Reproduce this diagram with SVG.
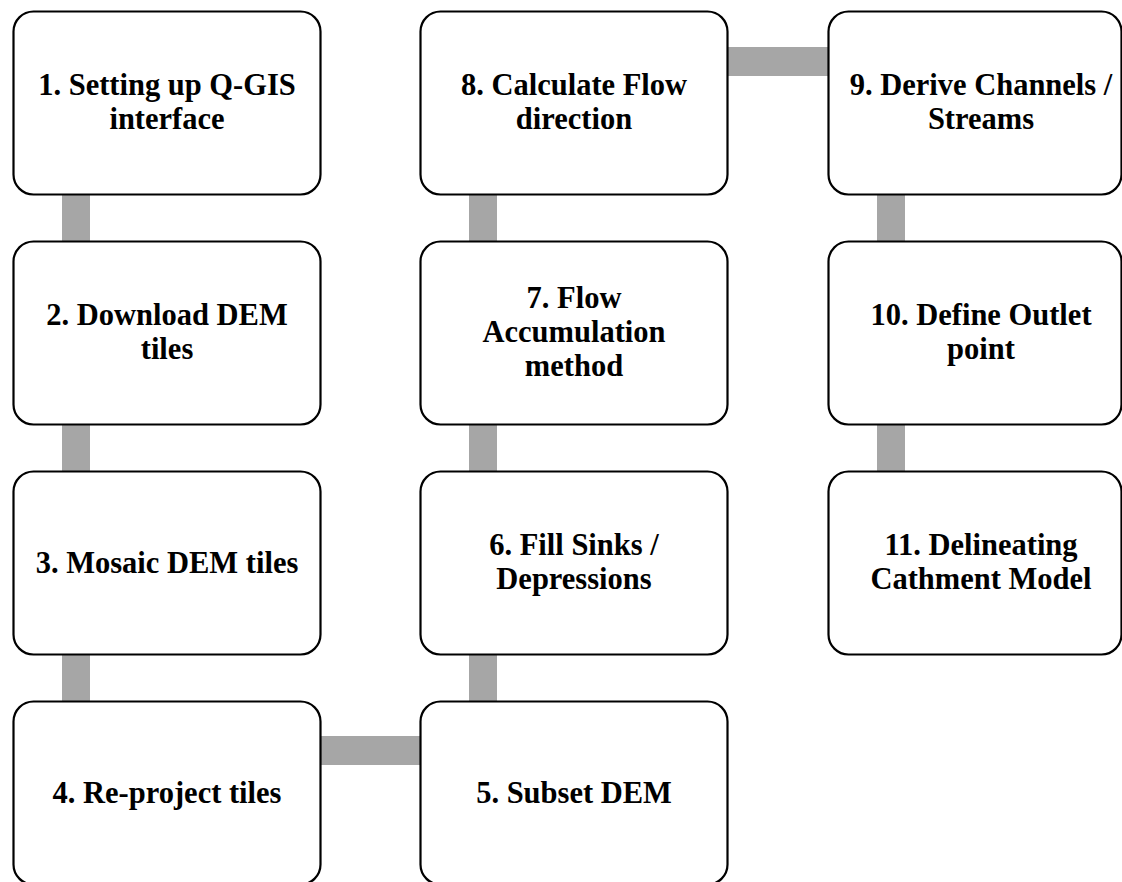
<svg xmlns="http://www.w3.org/2000/svg" width="1122" height="882" viewBox="0 0 1122 882">
<style>
.bg{fill:#ffffff}
.conn{fill:#a6a6a6;stroke:none}
.box{fill:#ffffff;stroke:#000000;stroke-width:2.2}
.lbl{font-family:"Liberation Serif","Times New Roman",serif;font-weight:bold;font-size:30.5px;fill:#000000;text-anchor:middle}
</style>
<rect class="bg" x="0" y="0" width="1122" height="882"/>
<g id="connectors">
<rect class="conn" x="62" y="190" width="28" height="56"/>
<rect class="conn" x="62" y="420" width="28" height="56"/>
<rect class="conn" x="62" y="650" width="28" height="56"/>
<rect class="conn" x="316" y="736" width="108" height="29"/>
<rect class="conn" x="469" y="650" width="28" height="56"/>
<rect class="conn" x="469" y="420" width="28" height="56"/>
<rect class="conn" x="469" y="190" width="28" height="56"/>
<rect class="conn" x="723" y="47" width="110" height="29"/>
<rect class="conn" x="877" y="190" width="28" height="56"/>
<rect class="conn" x="877" y="420" width="28" height="56"/>
</g>
<g id="n1"><rect class="box" x="13.5" y="11.5" width="307" height="183" rx="20"/><text class="lbl" x="167" y="95">1. Setting up Q-GIS</text><text class="lbl" x="167" y="129">interface</text></g>
<g id="n2"><rect class="box" x="13.5" y="241.5" width="307" height="183" rx="20"/><text class="lbl" x="167" y="325">2. Download DEM</text><text class="lbl" x="167" y="359">tiles</text></g>
<g id="n3"><rect class="box" x="13.5" y="471.5" width="307" height="183" rx="20"/><text class="lbl" x="167" y="572.5">3. Mosaic DEM tiles</text></g>
<g id="n4"><rect class="box" x="13.5" y="701.5" width="307" height="183" rx="20"/><text class="lbl" x="167" y="802.5">4. Re-project tiles</text></g>
<g id="n5"><rect class="box" x="420.5" y="701.5" width="307" height="183" rx="20"/><text class="lbl" x="574" y="802.5">5. Subset DEM</text></g>
<g id="n6"><rect class="box" x="420.5" y="471.5" width="307" height="183" rx="20"/><text class="lbl" x="574" y="555">6. Fill Sinks /</text><text class="lbl" x="574" y="589">Depressions</text></g>
<g id="n7"><rect class="box" x="420.5" y="241.5" width="307" height="183" rx="20"/><text class="lbl" x="574" y="308">7. Flow</text><text class="lbl" x="574" y="342">Accumulation</text><text class="lbl" x="574" y="376">method</text></g>
<g id="n8"><rect class="box" x="420.5" y="11.5" width="307" height="183" rx="20"/><text class="lbl" x="574" y="95">8. Calculate Flow</text><text class="lbl" x="574" y="129">direction</text></g>
<g id="n9"><rect class="box" x="828.5" y="11.5" width="293" height="183" rx="20"/><text class="lbl" x="981" y="95">9. Derive Channels /</text><text class="lbl" x="981" y="129">Streams</text></g>
<g id="n10"><rect class="box" x="828.5" y="241.5" width="293" height="183" rx="20"/><text class="lbl" x="981" y="325">10. Define Outlet</text><text class="lbl" x="981" y="359">point</text></g>
<g id="n11"><rect class="box" x="828.5" y="471.5" width="293" height="183" rx="20"/><text class="lbl" x="981" y="555">11. Delineating</text><text class="lbl" x="981" y="589">Cathment Model</text></g>
</svg>
